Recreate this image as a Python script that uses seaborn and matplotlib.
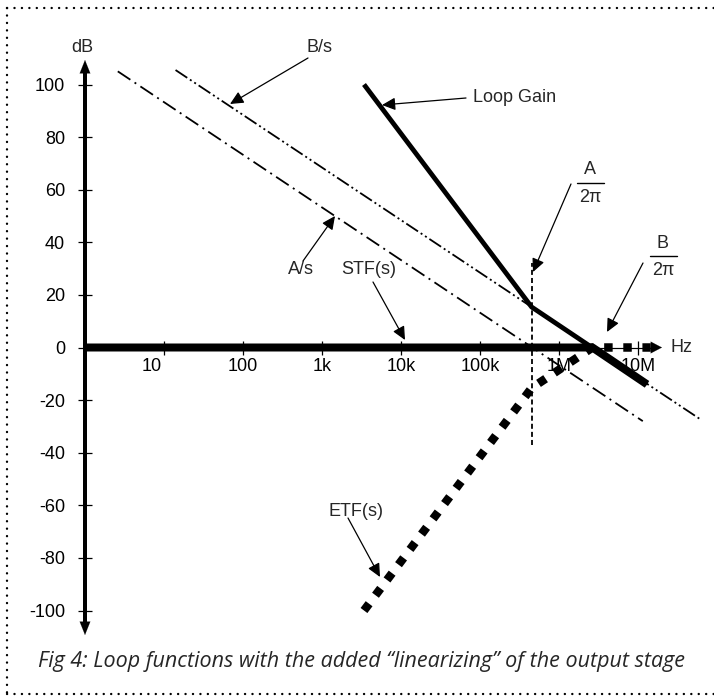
import numpy as np
import pandas as pd
import matplotlib
matplotlib.use("Agg")
import matplotlib.pyplot as plt
from matplotlib.lines import Line2D
from matplotlib.ticker import NullLocator
from matplotlib.transforms import ScaledTranslation
import seaborn as sns

# ---------------- data (frequency in Hz, gain in dB) ----------------
loop_gain_f = [3.4e3, 4.5e5, 1.3e7]
loop_gain_db = [100, 15.4, -14]

a_s_f = [2.6, 1.15e7]
a_s_db = [105, -28]

b_s_f = [14, 6.3e7]
b_s_db = [105.5, -27.5]

stf_f = [1, 2.65e6, 1.3e7]
stf_db = [0, 0, -14]

etf_f = [3.4e3, 4.5e5, 2.65e6, 1.45e7]
etf_db = [-100, -15.4, 0, 0]

a_corner_f = 4.5e5
a_corner_db = [-37, 32]

x_ticks = [10, 100, 1e3, 1e4, 1e5, 1e6, 1e7]
x_tick_labels = ["10", "100", "1k", "10k", "100k", "1M", "10M"]
y_ticks = [100, 80, 60, 40, 20, 0, -20, -40, -60, -80, -100]
y_tick_labels = [str(v) for v in y_ticks]

caption = "Fig 4: Loop functions with the added \u201clinearizing\u201d of the output stage"

# ---------------- figure ----------------
sns.set_theme(style="white")
plt.rcParams["font.family"] = ["Liberation Sans", "DejaVu Sans"]

W, H = 714, 696
fig = plt.figure(figsize=(W / 100, H / 100), dpi=100)
fig.patch.set_facecolor("white")
ax = fig.add_axes([0, 0, 1, 1])
ax.set_xscale("log")
ax.patch.set_alpha(0)

X0, XS = 85.0, 79.0    # pixel of 1 Hz, pixels per decade
Y0, YS = 347.5, 2.63   # pixel of 0 dB, pixels per dB
ax.set_xlim(10 ** ((0 - X0) / XS), 10 ** ((W - X0) / XS))
ax.set_ylim((Y0 - H) / YS, Y0 / YS)


def F(x, y):
    """pixel (from top-left) -> figure fraction"""
    return (x / W, 1 - y / H)


def tip_f(px):
    return 10 ** ((px - X0) / XS)


# ---------------- curves ----------------
lw_px = 100 / 72.0
thin = 1.8 / lw_px

sns.lineplot(x=a_s_f, y=a_s_db, ax=ax, color="black", linewidth=thin,
             linestyle=(0, (8.4, 2.8, 1.1, 2.8)), estimator=None, sort=False, zorder=3)
sns.lineplot(x=b_s_f, y=b_s_db, ax=ax, color="black", linewidth=thin,
             linestyle=(0, (7.8, 1.8, 1.1, 1.8, 1.1, 1.8)), estimator=None, sort=False, zorder=3)
sns.lineplot(x=[a_corner_f, a_corner_f], y=a_corner_db, ax=ax, color="black",
             linewidth=thin, linestyle=(0, (2.8, 1.7)), estimator=None, sort=False, zorder=3)
sns.lineplot(x=stf_f, y=stf_db, ax=ax, color="black", linewidth=8 / lw_px,
             estimator=None, sort=False, zorder=4, solid_capstyle="butt")
sns.lineplot(x=loop_gain_f, y=loop_gain_db, ax=ax, color="black", linewidth=4.8 / lw_px,
             estimator=None, sort=False, zorder=5, solid_capstyle="butt")
sns.lineplot(x=etf_f, y=etf_db, ax=ax, color="black", linewidth=8.5 / lw_px,
             linestyle=(0, (1.0, 1.25)), estimator=None, sort=False, zorder=6,
             dash_capstyle="butt")

# ---------------- axes ----------------
for s in ["top", "right"]:
    ax.spines[s].set_visible(False)
ax.spines["left"].set_position(("data", 1.0))
ax.spines["bottom"].set_position(("data", 0.0))
ax.spines["left"].set_linewidth(4 / lw_px)
ax.spines["left"].set_color("black")
ax.spines["left"].set_bounds(-104, 104)
ax.spines["left"].set_zorder(7)
ax.spines["bottom"].set_linewidth(1.2 / lw_px)
ax.spines["bottom"].set_color("black")
ax.spines["bottom"].set_bounds(1, tip_f(652))

ax.set_xticks(x_ticks)
ax.set_xticklabels(x_tick_labels)
ax.xaxis.set_minor_locator(NullLocator())
ax.set_yticks(y_ticks)
ax.set_yticklabels(y_tick_labels)
ax.tick_params(axis="y", direction="inout", length=10, width=0.9, pad=9.4,
               labelsize=13, colors="black", left=True)
ax.tick_params(axis="x", direction="inout", length=10, width=0.9, pad=2.5,
               labelsize=13, colors="black", bottom=True)
ax.grid(False)

head = dict(shrinkA=0, shrinkB=0, color="black", mutation_scale=10)
# axis arrowheads
ax.annotate("", xy=F(85, 60), xytext=F(85, 80), xycoords="figure fraction",
            arrowprops=dict(arrowstyle="-|>,head_length=0.95,head_width=0.38", lw=0.1, **head))
ax.annotate("", xy=F(85, 635), xytext=F(85, 615), xycoords="figure fraction",
            arrowprops=dict(arrowstyle="-|>,head_length=0.95,head_width=0.38", lw=0.1, **head))
ax.annotate("", xy=F(662, 347.5), xytext=F(645, 347.5), xycoords="figure fraction",
            arrowprops=dict(arrowstyle="-|>,head_length=0.8,head_width=0.42", lw=0.1, **head))

fig.text(*F(82, 47), "dB", fontsize=13, ha="center", va="center")
fig.text(*F(670, 348), "Hz", fontsize=13, ha="left", va="center")

# ---------------- annotations ----------------
ann = dict(arrowstyle="-|>,head_length=0.8,head_width=0.38", lw=0.9, **head)


def label(text, txy, a_from, a_to, ha="center"):
    fig.text(*F(*txy), text, fontsize=13, ha=ha, va="center")
    ax.annotate("", xy=F(*a_to), xytext=F(*a_from), xycoords="figure fraction",
                arrowprops=ann)


label("B/s", (320, 47), (308, 58), (230, 104))
label("A/s", (301, 269), (303, 261), (335, 216))
label("Loop Gain", (473, 98), (466, 98), (382, 105), ha="left")
label("STF(s)", (369, 269), (373, 282), (405, 340))
label("ETF(s)", (356, 512), (348, 518), (380, 577))

# fractions A/2pi and B/2pi
for (cx, cy_top, a_from, a_to, letter) in [(590, 170, (571, 184), (533, 272), "A"),
                                           (663, 243, (643, 263), (607, 332), "B")]:
    fig.text(*F(cx, cy_top), letter, fontsize=13, ha="center", va="center")
    fig.text(*F(cx, cy_top + 27), "2\u03c0", fontsize=13, ha="center", va="center")
    fig.add_artist(Line2D([(cx - 13) / W, (cx + 14) / W], [1 - (cy_top + 13) / H] * 2,
                          transform=fig.transFigure, color="black", lw=1.0))
    ax.annotate("", xy=F(*a_to), xytext=F(*a_from), xycoords="figure fraction",
                arrowprops=ann)

# nudge the "10" tick label slightly left, as in the original
first = ax.get_xticklabels()[0]
first.set_transform(first.get_transform() + ScaledTranslation(-0.12, 0, fig.dpi_scale_trans))

# caption
fig.text(*F(38, 662), caption, fontsize=15.5, style="italic",
         family=["Open Sans", "DejaVu Sans"], ha="left", va="center")

# dotted frame (left, top, bottom)
dot = dict(transform=fig.transFigure, color="black", lw=1.7,
           linestyle=(0, (0.05, 3.1)), dash_capstyle="round")
fig.add_artist(Line2D([7 / W, 1.0], [1 - 8 / H] * 2, **dot))
fig.add_artist(Line2D([7 / W, 1.0], [1 - 694 / H] * 2, **dot))
fig.add_artist(Line2D([7 / W] * 2, [1 - 8 / H, 1 - 694 / H], **dot))

fig.savefig("out.png", dpi=100, facecolor="white")
